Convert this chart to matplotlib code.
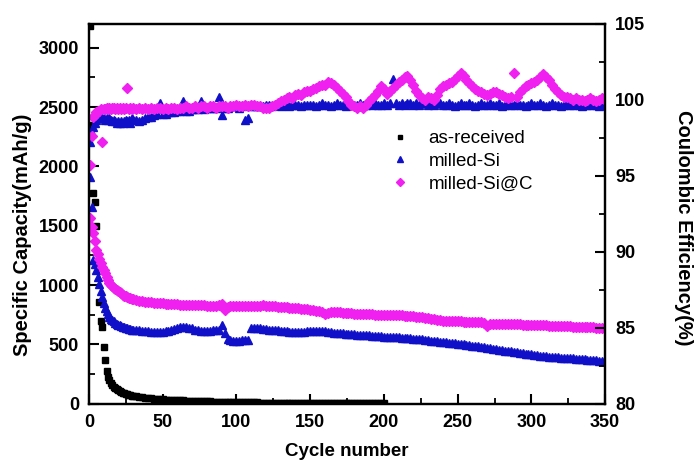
import matplotlib
matplotlib.use("Agg")
import matplotlib.pyplot as plt
from matplotlib.ticker import MultipleLocator

plt.rcParams['font.family'] = ['Liberation Sans', 'DejaVu Sans']

# ---------------- data ----------------
cycles_full = list(range(1, 31)) + list(range(32, 351, 2))   # milled samples
cycles_ar = list(range(1, 31)) + list(range(32, 201, 2))     # as-received

cap_asreceived = [3180, 2350, 1776, 1700, 1500, 1150, 860, 700, 650, 480,
                  370, 280, 230, 200, 178, 160, 146, 134, 124, 115,
                  108, 101, 95, 90, 85, 80, 76, 72, 69, 66,
                  62, 58, 55, 52, 49, 46, 44, 42, 40, 38,
                  36, 34, 33, 32, 31, 30, 29, 28, 27, 26,
                  25, 24, 23, 22, 21, 20, 19, 18, 18, 17,
                  17, 16, 16, 15, 15, 14, 14, 13, 13, 12,
                  12, 12, 11, 11, 11, 10, 10, 10, 9, 9,
                  9, 9, 8, 8, 8, 8, 8, 7, 7, 7,
                  7, 7, 7, 6, 6, 6, 6, 6, 6, 6,
                  5, 5, 5, 5, 5, 5, 5, 5, 5, 5,
                  5, 5, 5, 5, 5]

cap_milled_si = [1911, 1660, 1212, 1180, 1130, 1070, 1010, 950, 900, 850,
                 810, 780, 755, 735, 718, 705, 695, 685, 676, 668,
                 661, 655, 650, 645, 640, 636, 632, 628, 625, 622,
                 620, 618, 615, 612, 610, 608, 606, 605, 605, 606, 610, 615, 622, 630, 638,
                 645, 648, 645, 640, 635, 625, 618, 615, 614, 615, 616, 618, 620, 625, 660,
                 600, 545, 535, 530, 530, 532, 535, 538, 540, 640, 642, 640, 636, 632, 628,
                 625, 622, 620, 618, 615, 612, 610, 608, 607, 606, 605, 606, 608, 610, 612,
                 614, 616, 617, 615, 612, 608, 604, 600, 598, 596, 594, 592, 590, 588, 586,
                 584, 582, 580, 578, 576, 574, 572, 570, 568, 566, 565, 564, 563, 562, 560,
                 558, 556, 554, 552, 550, 548, 545, 542, 539, 536, 533, 530, 527, 524, 521,
                 518, 515, 512, 509, 506, 503, 500, 497, 494, 491, 488, 484, 480, 476, 472,
                 468, 464, 460, 456, 452, 448, 445, 442, 439, 436, 432, 428, 424, 420, 416,
                 413, 410, 407, 404, 401, 398, 396, 394, 392, 390, 388, 386, 384, 382, 380,
                 378, 376, 374, 372, 370, 368, 366, 364, 362, 360]

cap_milled_sic = [1566, 1490, 1440, 1370, 1300, 1260, 1220, 1185, 1155, 1128,
                  1100, 1070, 1045, 1020, 1005, 990, 978, 968, 960, 950,
                  940, 930, 920, 912, 905, 898, 893, 888, 884, 880,
                  875, 870, 866, 862, 858, 855, 852, 850, 848, 846, 845, 843, 842, 840, 838,
                  836, 835, 834, 833, 832, 831, 830, 830, 829, 828, 828, 827, 828, 835, 842,
                  790, 815, 822, 825, 824, 823, 822, 822, 821, 822, 823, 824, 826, 830, 828,
                  825, 822, 820, 818, 816, 814, 812, 810, 808, 806, 804, 800, 798, 796, 792,
                  788, 784, 780, 770, 760, 765, 772, 774, 772, 770, 768, 766, 764, 762, 760,
                  758, 757, 756, 755, 754, 753, 752, 752, 751, 750, 750, 749, 748, 747, 746,
                  745, 744, 742, 740, 738, 735, 732, 728, 724, 720, 716, 712, 708, 705, 702,
                  700, 698, 697, 696, 695, 694, 693, 692, 691, 690, 689, 688, 686, 684, 655,
                  672, 676, 676, 675, 675, 674, 673, 672, 671, 670, 669, 668, 667, 666, 665,
                  664, 663, 662, 661, 660, 659, 658, 657, 656, 655, 654, 653, 652, 651, 650,
                  649, 648, 647, 646, 645, 644, 643, 642, 641, 640]

ce_milled_si = [97.2, 97.8, 98.2, 98.5, 98.7, 98.8, 98.9, 98.9, 98.8, 98.8,
                98.7, 98.8, 98.7, 98.8, 98.7, 98.6, 98.7, 98.6, 98.5, 98.6,
                98.5, 98.6, 98.5, 98.6, 98.7, 98.6, 98.7, 98.5, 98.8, 98.7,
                98.7, 98.6, 98.7, 98.8, 98.9, 98.9, 99.0, 99.1, 99.8, 99.1, 99.1, 99.2, 99.2, 99.2, 99.3,
                99.3, 99.9, 99.3, 99.3, 99.4, 99.4, 99.4, 99.9, 99.4, 99.5, 99.5, 99.5, 99.5, 100.2, 99.0,
                99.5, 99.5, 99.6, 99.6, 99.6, 99.5, 99.6, 98.7, 98.8, 99.6, 99.6, 99.6, 99.6, 99.6, 99.7,
                99.7, 99.6, 99.7, 99.7, 99.6, 99.7, 99.7, 99.6, 99.7, 99.7, 99.7, 99.6, 99.7, 99.7, 99.7,
                99.7, 99.6, 99.7, 99.8, 99.7, 99.7, 99.6, 99.7, 99.8, 99.7, 99.7, 99.6, 99.7, 99.8, 99.7,
                99.7, 99.8, 99.7, 99.7, 99.8, 99.7, 99.8, 99.7, 99.7, 99.8, 99.7, 99.8, 101.4, 99.8, 99.7,
                99.8, 99.7, 99.8, 99.8, 99.7, 99.8, 99.7, 99.8, 99.8, 99.7, 99.8, 99.7, 99.8, 99.8, 99.7,
                99.7, 99.8, 99.7, 99.6, 99.7, 99.8, 99.7, 99.7, 99.8, 99.7, 99.6, 99.7, 99.8, 99.7, 99.7,
                99.8, 99.7, 99.7, 99.8, 99.6, 99.7, 99.8, 99.7, 99.7, 99.8, 99.7, 99.7, 99.6, 99.7, 99.8,
                99.7, 99.7, 99.8, 99.7, 99.6, 99.7, 99.8, 99.7, 99.7, 99.6, 99.7, 99.8, 99.7, 99.7, 99.8,
                99.7, 99.6, 99.7, 99.7, 99.8, 99.7, 99.7, 99.6, 99.7, 99.8]

ce_milled_sic = [95.7, 97.6, 98.9, 99.0, 99.2, 99.3, 99.3, 99.4, 97.2, 99.4,
                 99.4, 99.5, 99.4, 99.5, 99.4, 99.5, 99.5, 99.4, 99.5, 99.4,
                 99.5, 99.4, 99.5, 99.4, 99.5, 100.8, 99.4, 99.5, 99.4, 99.5,
                 99.4, 99.5, 99.4, 99.5, 99.4, 99.5, 99.4, 99.5, 99.5, 99.4, 99.5, 99.4, 99.5, 99.5, 99.4,
                 99.5, 99.5, 99.6, 99.5, 99.5, 99.6, 99.5, 99.6, 99.6, 99.5, 99.6, 99.6, 99.5, 99.6, 99.6,
                 99.6, 99.5, 99.6, 99.6, 99.7, 99.6, 99.6, 99.7, 99.6, 99.7, 99.7, 99.6, 99.6, 99.5, 99.5,
                 99.5, 99.6, 99.7, 99.8, 99.9, 100.0, 100.1, 100.2, 100.1, 100.3, 100.4, 100.3, 100.5, 100.6, 100.6,
                 100.7, 100.8, 100.9, 101.0, 101.0, 101.2, 101.1, 101.0, 100.8, 100.6, 100.4, 100.2, 99.9, 99.7, 99.6,
                 99.5, 99.6, 99.5, 99.7, 99.9, 100.1, 100.3, 100.6, 100.9, 100.7, 100.4, 100.6, 100.8, 101.0, 101.2,
                 101.3, 101.5, 101.6, 101.3, 101.0, 100.6, 100.3, 100.1, 100.0, 100.2, 100.1, 100.0, 100.3, 100.7, 100.9,
                 101.0, 101.1, 101.2, 101.4, 101.6, 101.8, 101.6, 101.3, 101.1, 100.9, 100.7, 100.6, 100.5, 100.4, 100.3,
                 100.4, 100.5, 100.5, 100.4, 100.3, 100.2, 100.1, 100.2, 101.8, 100.2, 100.5, 100.7, 100.9, 101.0, 101.1,
                 101.2, 101.3, 101.5, 101.7, 101.5, 101.3, 101.0, 100.7, 100.5, 100.3, 100.2, 100.2, 100.1, 100.0, 100.1,
                 100.0, 100.0, 99.9, 100.0, 100.1, 100.0, 99.9, 100.0, 100.1, 100.0]

labels = ["as-received", "milled-Si", "milled-Si@C"]
colors = ["#000000", "#1010C8", "#F020F0"]

# ---------------- figure ----------------
fig = plt.figure(figsize=(6.94, 4.61), dpi=100)
ax1 = fig.add_axes([0.128, 0.124, 0.744, 0.824])
ax2 = ax1.twinx()

h1, = ax1.plot(cycles_ar, cap_asreceived, ls='none', marker='s', ms=3.8,
               color=colors[0], mec=colors[0])
h2, = ax1.plot(cycles_full, cap_milled_si, ls='none', marker='^', ms=5.6,
               color=colors[1], mec=colors[1])
h3, = ax1.plot(cycles_full, cap_milled_sic, ls='none', marker='D', ms=4.6,
               color=colors[2], mec=colors[2])

ax2.plot(cycles_full, ce_milled_si, ls='none', marker='^', ms=5.6,
         color=colors[1], mec=colors[1])
ax2.plot(cycles_full, ce_milled_sic, ls='none', marker='D', ms=4.6,
         color=colors[2], mec=colors[2])

ax1.set_xlim(0, 350)
ax1.set_ylim(0, 3200)
ax2.set_ylim(80, 105)

ax1.xaxis.set_major_locator(MultipleLocator(50))
ax1.xaxis.set_minor_locator(MultipleLocator(25))
ax1.yaxis.set_major_locator(MultipleLocator(500))
ax1.yaxis.set_minor_locator(MultipleLocator(250))
ax2.yaxis.set_major_locator(MultipleLocator(5))
ax2.yaxis.set_minor_locator(MultipleLocator(2.5))

for ax in (ax1, ax2):
    for s in ax.spines.values():
        s.set_linewidth(1.6)

ax1.tick_params(axis='both', which='major', direction='in', length=7, width=1.5,
                labelsize=13, pad=7, top=False, right=False)
ax1.tick_params(axis='both', which='minor', direction='in', length=4, width=1.3,
                top=False, right=False)
ax2.tick_params(axis='y', which='major', direction='in', length=7, width=1.5,
                labelsize=13, pad=7)
ax2.tick_params(axis='y', which='minor', direction='in', length=4, width=1.3)

for lab in ax1.get_xticklabels() + ax1.get_yticklabels() + ax2.get_yticklabels():
    lab.set_fontweight('bold')

ax1.set_xlabel("Cycle number", fontsize=13.5, fontweight='bold')
ax1.xaxis.set_label_coords(0.5, -0.104)
ax1.set_ylabel("Specific Capacity(mAh/g)", fontsize=14.5, fontweight='bold')
ax1.yaxis.set_label_coords(-0.110, 0.445)
ax2.set_ylabel("Coulombic Efficiency(%)", fontsize=14.5, fontweight='bold',
               rotation=270)
ax2.yaxis.set_label_coords(1.171, 0.463)

leg = ax2.legend([h1, h2, h3], labels, loc='upper left',
                 bbox_to_anchor=(0.549, 0.765), frameon=False, fontsize=13.5,
                 handletextpad=0.9, handlelength=1.2, labelspacing=0.3,
                 markerscale=0.8)

fig.savefig("out.png", dpi=100)
